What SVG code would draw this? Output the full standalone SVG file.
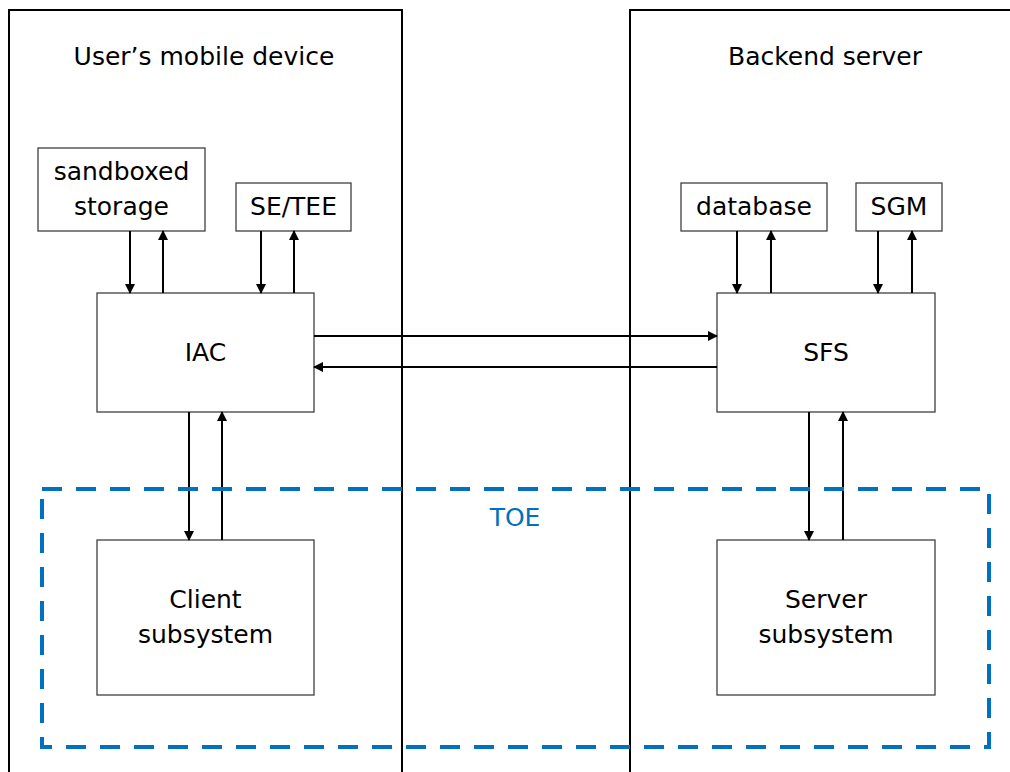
<svg xmlns="http://www.w3.org/2000/svg" width="1010" height="772" viewBox="0 0 1010 772">
<style>
.container{fill:none;stroke:#000;stroke-width:2}
.box{fill:#fff;stroke:#404040;stroke-width:1.3}
.lbl{font-family:"DejaVu Sans","Liberation Sans",Arial,sans-serif;font-size:25px;fill:#000;text-anchor:middle}
.conn{stroke:#000;stroke-width:2;fill:none;marker-end:url(#ah)}
.toe{fill:none;stroke:#0070C0;stroke-width:4;stroke-dasharray:20,14}
</style>
<defs>
<marker id="ah" viewBox="0 0 10 10" refX="9" refY="5" markerWidth="5" markerHeight="5" orient="auto" markerUnits="strokeWidth">
<path d="M0,0 L10,5 L0,10 Z" fill="#000"/>
</marker>
</defs>
<rect width="1010" height="772" fill="#fff"/>
<g id="mobile-device">
<rect class="container" x="9" y="10" width="393" height="780"/>
<text class="lbl" x="204" y="65">User’s mobile device</text>
</g>
<g id="backend-server">
<rect class="container" x="630" y="10" width="400" height="780"/>
<text class="lbl" x="825" y="65">Backend server</text>
</g>
<g id="sandboxed-storage">
<rect class="box" x="38" y="148" width="167" height="83"/>
<text class="lbl" x="121.5" y="180">sandboxed</text>
<text class="lbl" x="121.5" y="215">storage</text>
</g>
<g id="se-tee">
<rect class="box" x="236" y="183" width="115" height="48"/>
<text class="lbl" x="293.5" y="215">SE/TEE</text>
</g>
<g id="iac">
<rect class="box" x="97" y="293" width="217" height="119"/>
<text class="lbl" x="205.5" y="361">IAC</text>
</g>
<g id="client-subsystem">
<rect class="box" x="97" y="540" width="217" height="155"/>
<text class="lbl" x="205.5" y="608">Client</text>
<text class="lbl" x="205.5" y="643">subsystem</text>
</g>
<g id="database">
<rect class="box" x="681" y="183" width="146" height="48"/>
<text class="lbl" x="754" y="215">database</text>
</g>
<g id="sgm">
<rect class="box" x="856" y="183" width="86" height="48"/>
<text class="lbl" x="899" y="215">SGM</text>
</g>
<g id="sfs">
<rect class="box" x="717" y="293" width="218" height="119"/>
<text class="lbl" x="826" y="361">SFS</text>
</g>
<g id="server-subsystem">
<rect class="box" x="717" y="540" width="218" height="155"/>
<text class="lbl" x="826" y="608">Server</text>
<text class="lbl" x="826" y="643">subsystem</text>
</g>
<g id="connectors">
<line class="conn" x1="130" y1="231" x2="130" y2="293"/>
<line class="conn" x1="163" y1="293" x2="163" y2="231"/>
<line class="conn" x1="261" y1="231" x2="261" y2="293"/>
<line class="conn" x1="294" y1="293" x2="294" y2="231"/>
<line class="conn" x1="189" y1="412" x2="189" y2="540"/>
<line class="conn" x1="222" y1="540" x2="222" y2="412"/>
<line class="conn" x1="314" y1="336" x2="717" y2="336"/>
<line class="conn" x1="717" y1="367" x2="314" y2="367"/>
<line class="conn" x1="737" y1="231" x2="737" y2="293"/>
<line class="conn" x1="771" y1="293" x2="771" y2="231"/>
<line class="conn" x1="878" y1="231" x2="878" y2="293"/>
<line class="conn" x1="912" y1="293" x2="912" y2="231"/>
<line class="conn" x1="809" y1="412" x2="809" y2="540"/>
<line class="conn" x1="843" y1="540" x2="843" y2="412"/>
</g>
<g id="toe">
<rect class="toe" x="42" y="489" width="947" height="258"/>
<text class="lbl" x="515" y="526" style="fill:#0070C0">TOE</text>
</g>
</svg>
